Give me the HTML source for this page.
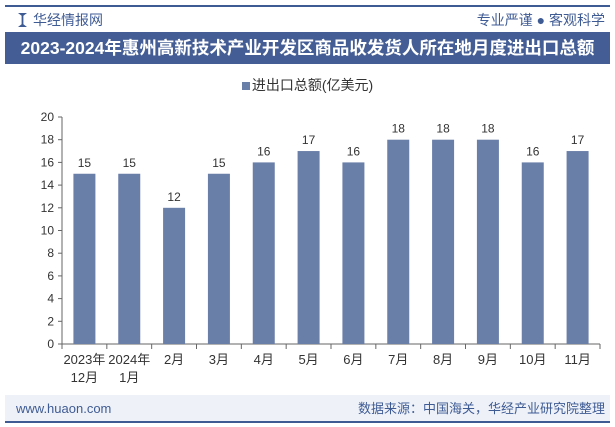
<!DOCTYPE html>
<html><head><meta charset="utf-8"><style>
body{margin:0;width:615px;height:427px;background:#fff;font-family:"Liberation Sans","Noto Sans CJK SC",sans-serif;overflow:hidden;position:relative}
div{position:absolute}
</style></head><body>
<div style="left:5px;top:5px;width:605px;height:2px;background:#3f5b94"></div>
<div style="left:18px;top:10px;font-size:14px;color:#3f5b94;line-height:20px"><span style="display:inline-block;width:9px;height:14px;background:#3f5b94;vertical-align:-2px;margin-right:6px;clip-path:polygon(0 0,40% 20%,40% 80%,0 100%,100% 100%,60% 80%,60% 20%,100% 0)"></span>华经情报网</div>
<div style="right:10px;top:10px;font-size:14px;color:#3f5b94;line-height:20px">专业严谨 ● 客观科学</div>
<div style="left:5px;top:32px;width:605px;height:32px;background:#445e95;color:#fff;font-weight:bold;font-size:17.5px;line-height:32px;text-align:center">2023-2024年惠州高新技术产业开发区商品收发货人所在地月度进出口总额</div>
<div style="left:0;width:615px;top:75px;text-align:center;font-size:14px;color:#333;line-height:20px"><span style="display:inline-block;width:8px;height:8px;background:#6a7fa8;margin-right:2px"></span>进出口总额(亿美元)</div>
<svg width="615" height="427" style="position:absolute;left:0;top:0" id="c"></svg>
<div style="left:5px;top:395px;width:605px;height:26px;background:#eef2f8"></div>
<div style="left:16px;top:399px;font-size:13px;color:#3f5b94;line-height:20px">www.huaon.com</div>
<div style="right:10px;top:399px;font-size:13px;color:#3f5b94;line-height:20px">数据来源：中国海关，华经产业研究院整理</div>
<div style="left:5px;top:421px;width:605px;height:2px;background:#3f5b94"></div>
<script>
const categories=[["2023年","12月"],["2024年","1月"],["2月"],["3月"],["4月"],["5月"],["6月"],["7月"],["8月"],["9月"],["10月"],["11月"]];
const values=[15,15,12,15,16,17,16,18,18,18,16,17];
const yTicks=[0,2,4,6,8,10,12,14,16,18,20];
const svg=document.getElementById('c');const NS='http://www.w3.org/2000/svg';
const x0=62,x1=600,yTop=117,yBot=344,ymax=20;
const y=v=>yBot-(v/ymax)*(yBot-yTop);
const bw=(x1-x0)/categories.length;
const xc=i=>x0+bw*(i+0.5);
function mk(t,a){const e=document.createElementNS(NS,t);for(const k in a)e.setAttribute(k,a[k]);svg.appendChild(e);return e;}
let ax=mk('line',{x1:x0,y1:yTop,x2:x0,y2:yBot,stroke:'#666'});


let bx=mk('line',{x1:x0,y1:yBot,x2:x1,y2:yBot,stroke:'#666'});


yTicks.forEach(v=>{mk('line',{x1:x0-4,y1:y(v),x2:x0,y2:y(v),stroke:'#666'});
const t=mk('text',{x:x0-8,y:y(v)+4,'text-anchor':'end','font-size':12,fill:'#333'});t.textContent=v;

});
for(let i=0;i<=categories.length;i++)mk('line',{x1:x0+bw*i,y1:yBot,x2:x0+bw*i,y2:yBot+5,stroke:'#666'});
values.forEach((v,i)=>{
const r=mk('rect',{x:xc(i)-11,y:y(v),width:22,height:yBot-y(v),fill:'#6a7fa8'});


const t=mk('text',{x:xc(i),y:y(v)-7,'text-anchor':'middle','font-size':12,fill:'#333'});t.textContent=v;


categories[i].forEach((s,j)=>{const l=mk('text',{x:xc(i),y:yBot+20+j*18,'text-anchor':'middle','font-size':13,fill:'#333'});l.textContent=s;

});
});
</script>
</body></html>
